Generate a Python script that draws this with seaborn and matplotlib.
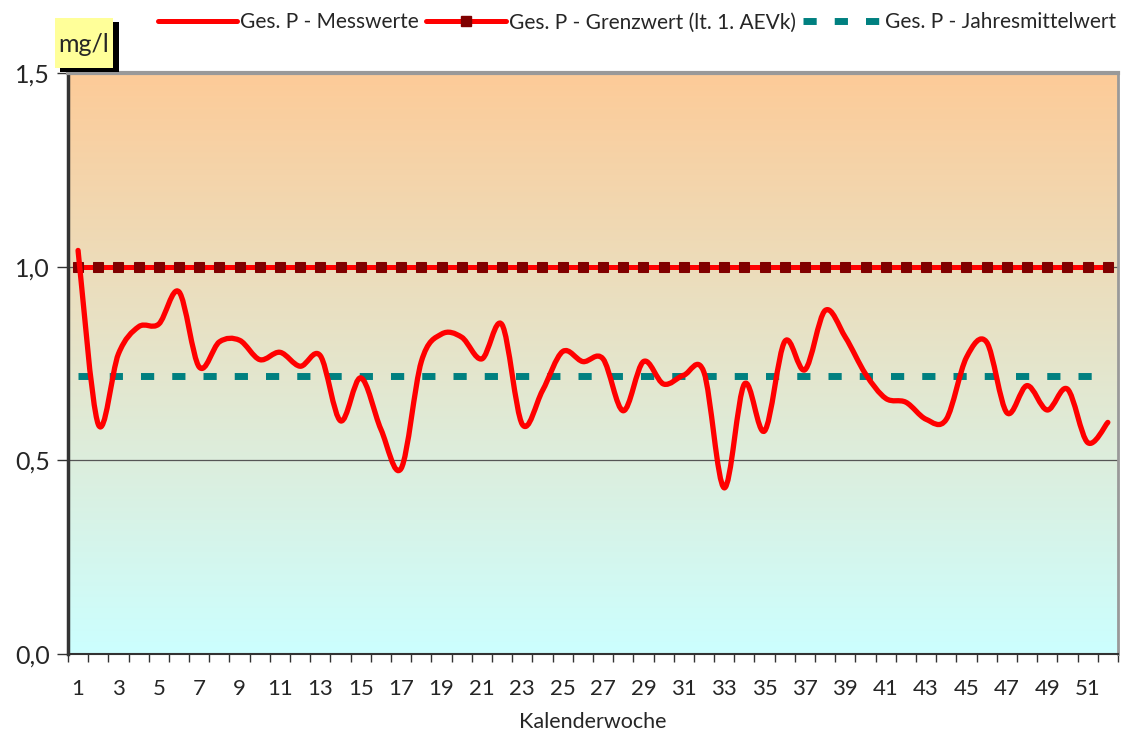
import numpy as np
import pandas as pd
import matplotlib.pyplot as plt
import seaborn as sns
from matplotlib.path import Path
from matplotlib.patches import PathPatch, Rectangle
from matplotlib.lines import Line2D
from matplotlib.colors import LinearSegmentedColormap

# Daten
weeks = list(range(1, 53))
messwerte = [1.042, 0.593, 0.775, 0.845, 0.852, 0.935, 0.741, 0.806, 0.810, 0.760,
             0.779, 0.743, 0.770, 0.602, 0.713, 0.580, 0.479, 0.755, 0.826, 0.818,
             0.762, 0.850, 0.593, 0.680, 0.781, 0.755, 0.762, 0.628, 0.755, 0.697,
             0.720, 0.727, 0.429, 0.697, 0.576, 0.807, 0.734, 0.887, 0.818, 0.723,
             0.660, 0.650, 0.606, 0.606, 0.766, 0.805, 0.623, 0.693, 0.630, 0.684,
             0.546, 0.598]
grenzwert = [1.0] * len(weeks)
jahresmittel = [0.718] * len(weeks)

series_labels = ["Ges. P - Messwerte", "Ges. P - Grenzwert (lt. 1. AEVk)",
                 "Ges. P - Jahresmittelwert"]
y_ticks = [0.0, 0.5, 1.0, 1.5]
y_tick_labels = ["0,0", "0,5", "1,0", "1,5"]
x_tick_weeks = list(range(1, 52, 2))


def smooth_path(xs, ys):
    # Bezier-Glättung wie in Excel (Catmull-Rom)
    pts = np.column_stack([xs, ys]).astype(float)
    n = len(pts)
    verts = [pts[0]]
    codes = [Path.MOVETO]
    for i in range(n - 1):
        p0 = pts[max(i - 1, 0)]
        p1 = pts[i]
        p2 = pts[i + 1]
        p3 = pts[min(i + 2, n - 1)]
        verts += [p1 + (p2 - p0) / 6, p2 - (p3 - p1) / 6, p2]
        codes += [Path.CURVE4] * 3
    return Path(verts, codes)


sns.set_style("ticks")
plt.rcParams['font.family'] = ['Lato', 'DejaVu Sans']

fig = plt.figure(figsize=(11.29, 7.37), dpi=100)
ax = fig.add_axes([0.0602, 0.1126, 0.9300, 0.7883])

# Hintergrundverlauf
cmap = LinearSegmentedColormap.from_list("bg", ["#CCFFFF", "#FDCB98"])
grad = np.linspace(0, 1, 256).reshape(-1, 1)
ax.imshow(grad, extent=[0.5, 52.5, 0, 1.5], aspect='auto', cmap=cmap,
          origin='lower', zorder=0)

df = pd.DataFrame({'Woche': weeks, 'Messwert': messwerte,
                   'Grenzwert': grenzwert, 'Mittel': jahresmittel})

sns.lineplot(data=df, x='Woche', y='Mittel', color='#008080', lw=5,
             ls=(0, (1.9, 2.6)), legend=False, ax=ax, zorder=3)
sns.lineplot(data=df, x='Woche', y='Grenzwert', color='red', lw=3.6,
             marker='s', markersize=7, markerfacecolor='#800000',
             markeredgecolor='#800000', legend=False, ax=ax, zorder=4)

ax.add_patch(PathPatch(smooth_path(df['Woche'], df['Messwert']),
                       facecolor='none', edgecolor='red', lw=3.8,
                       capstyle='round', joinstyle='round', zorder=5))

ax.set_xlim(0.5, 52.5)
ax.set_ylim(0, 1.5)
ax.set_yticks(y_ticks)
ax.set_yticklabels(y_tick_labels, fontsize=18)
ax.set_xticks(x_tick_weeks)
ax.set_xticklabels([str(w) for w in x_tick_weeks], fontsize=16)
ax.set_xticks(np.arange(0.5, 53, 1), minor=True)
ax.tick_params(axis='x', which='major', length=0, pad=18)
ax.tick_params(axis='x', which='minor', length=6, width=1, color='#333333')
ax.tick_params(axis='y', length=8, width=1, color='#333333', pad=5)
ax.set_xlabel("Kalenderwoche", fontsize=15.5, labelpad=9)
ax.set_ylabel("")

ax.yaxis.grid(True, color='#555555', lw=0.9)
ax.set_axisbelow(True)

for side, col, lw in [('left', '#333333', 2.5), ('bottom', '#333333', 1.5),
                      ('top', '#999999', 3), ('right', '#999999', 2)]:
    ax.spines[side].set_visible(True)
    ax.spines[side].set_color(col)
    ax.spines[side].set_linewidth(lw)

# Einheit mg/l im gelben Kasten
fig.patches.append(Rectangle((60 / 1129, (737 - 72) / 737), 59 / 1129, 50 / 737,
                             transform=fig.transFigure, facecolor='black',
                             edgecolor='none', zorder=1))
fig.patches.append(Rectangle((55 / 1129, (737 - 68) / 737), 58 / 1129, 50 / 737,
                             transform=fig.transFigure, facecolor='#FFFF99',
                             edgecolor='none', zorder=2))
fig.text(84 / 1129, 1 - 44 / 737, "mg/l", fontsize=18, ha='center', va='center',
         zorder=3)

# Legende
handles = [
    Line2D([], [], color='red', lw=3.6),
    Line2D([], [], color='red', lw=3.6, marker='s', markersize=7,
           markerfacecolor='#800000', markeredgecolor='#800000'),
    Line2D([], [], color='#008080', lw=5, ls=(0, (1.9, 2.6))),
]
fig.legend(handles, series_labels, loc='upper right', bbox_to_anchor=(1.0, 1.0),
           ncol=3, frameon=False, fontsize=15, handlelength=3.8,
           handletextpad=0.15, columnspacing=0.35, borderaxespad=0.2)

plt.savefig("out.png", dpi=100)
plt.close()
